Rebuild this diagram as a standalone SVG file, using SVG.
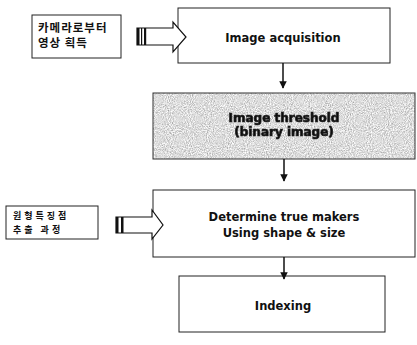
<svg xmlns="http://www.w3.org/2000/svg" width="417" height="345" viewBox="0 0 417 345">
<style>
.box{fill:#fff;stroke:#222;stroke-width:1}
.lbl{font-family:"DejaVu Sans","Liberation Sans",sans-serif;font-weight:bold;fill:#111;text-anchor:middle}
.kr{font-family:"Noto Sans CJK KR","Noto Sans",sans-serif;font-weight:bold;fill:#111}
.con{stroke:#111;stroke-width:1.5;fill:none}
.blk{fill:#fff;stroke:#111;stroke-width:1.2}
</style>
<defs>
<marker id="ah" viewBox="0 0 10 10" refX="9" refY="5" markerWidth="5" markerHeight="5" orient="auto">
<path d="M0,0 L10,5 L0,10 z" fill="#111"/>
</marker>
<filter id="noise" x="0" y="0" width="100%" height="100%">
<feTurbulence type="fractalNoise" baseFrequency="0.95" numOctaves="2" seed="3" result="t"/>
<feColorMatrix in="t" type="matrix" values="1.0 0 0 0 0.22  1.0 0 0 0 0.22  1.0 0 0 0 0.22  0 0 0 0 1" result="n"/>
<feComposite in="n" in2="SourceAlpha" operator="in"/>
</filter>
<filter id="blur"><feGaussianBlur stdDeviation="0.5"/></filter>
</defs>

<g id="note1">
<rect class="box" x="32" y="15" width="89" height="43"/>
<text class="kr" x="38" y="32" font-size="11.5" letter-spacing="1">카메라로부터</text>
<text class="kr" x="38" y="47" font-size="11.5" letter-spacing="1">영상 획득</text>
</g>

<g id="note2">
<rect class="box" x="6" y="206" width="92" height="33"/>
<text class="kr" x="13" y="219" font-size="9" letter-spacing="3">원형특징점</text>
<text class="kr" x="13" y="233" font-size="9" letter-spacing="3">추출 과정</text>
</g>

<g id="acq">
<rect class="box" x="178" y="8" width="212" height="55"/>
<text class="lbl" x="283" y="42" font-size="11.5">Image acquisition</text>
</g>

<g id="thresh">
<rect x="153" y="93" width="262" height="66" fill="#b4b4b4" filter="url(#noise)"/>
<rect x="153" y="93" width="262" height="66" fill="none" stroke="#333" stroke-width="1"/>
<g filter="url(#blur)">
<text class="lbl" x="284" y="122" font-size="12" fill="#1a1a1a" stroke="#1a1a1a" stroke-width="0.7">Image threshold</text>
<text class="lbl" x="284" y="136" font-size="12" fill="#1a1a1a" stroke="#1a1a1a" stroke-width="0.7">(binary image)</text>
</g>
</g>

<g id="determine">
<rect class="box" x="153" y="190" width="262" height="67"/>
<text class="lbl" x="284" y="221" font-size="11.5">Determine true makers</text>
<text class="lbl" x="284" y="237" font-size="11.5">Using shape &amp; size</text>
</g>

<g id="indexing">
<rect class="box" x="179" y="276" width="206" height="56"/>
<text class="lbl" x="283" y="310" font-size="11.5">Indexing</text>
</g>

<g id="connectors">
<line class="con" x1="283" y1="63" x2="283" y2="88" marker-end="url(#ah)"/>
<line class="con" x1="284" y1="159" x2="284" y2="181" marker-end="url(#ah)"/>
<line class="con" x1="284" y1="257" x2="284" y2="279" marker-end="url(#ah)"/>
<g id="arrow1">
<path class="blk" d="M137,28 L173,28 L173,22 L186,37 L173,52 L173,45 L137,45 Z"/>
<rect x="137" y="28" width="2.5" height="17" fill="#111"/>
<rect x="141" y="28" width="1.2" height="17" fill="#111"/>
<rect x="144" y="28" width="2.2" height="17" fill="#111"/>
</g>
<g id="arrow2">
<path class="blk" d="M116,217 L152,217 L152,210 L163,225 L152,239 L152,233 L116,233 Z"/>
<rect x="116" y="217" width="2.5" height="16" fill="#111"/>
<rect x="121" y="217" width="2.5" height="16" fill="#111"/>
</g>
</g>
</svg>
